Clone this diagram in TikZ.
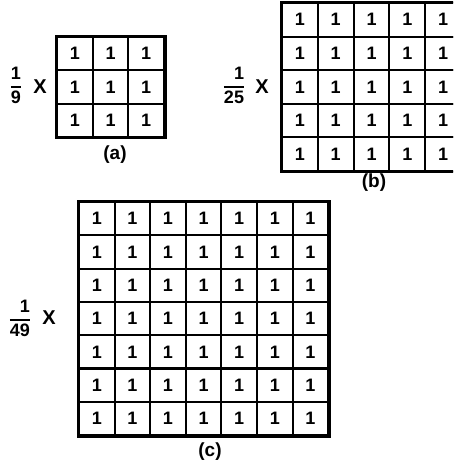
\documentclass[tikz,border=0pt]{standalone}
\usepackage{fontspec}
\setmainfont{Liberation Sans}
\setlength\arrayrulewidth{1.5pt}
\renewcommand\arraystretch{1.15}
\begin{document}
\begin{tikzpicture}[x=1pt,y=-1pt,
  cell/.style={draw, line width=2.1pt, minimum width=35.7pt, minimum height=33.3pt, inner sep=0pt, font=\fontsize{18}{20}\selectfont\bfseries},
  outline/.style={line width=2.8pt},
  lbl/.style={font=\fontsize{19}{21}\selectfont\bfseries, inner sep=0pt},
  fracnode/.style={font=\fontsize{18}{20}\selectfont\bfseries, inner sep=0pt},
  times/.style={font=\fontsize{20}{22}\selectfont\bfseries, inner sep=0pt},
]
\useasboundingbox (0,0) rectangle (453,462);
\fill[white] (0,0) rectangle (453,462);
\begin{scope}
\clip (0,0) rectangle (453,462);
% grid (a)
\foreach \r in {0,1,2} \foreach \c in {0,1,2}
  \node[cell] (a-\r-\c) at ({57+35.7*(\c+0.5)},{37+33.3*(\r+0.5)}) {1};
\draw[outline] (a-0-0.north west) rectangle (a-2-2.south east);
\node[fracnode] (fa) at (16,87) {\begin{tabular}{@{}c@{}}1\\\hline 9\end{tabular}};
\node[times] (xa) at (40,87) {X};
\node[lbl] (la) at (115,155) {(a)};
% grid (b)
\foreach \r in {0,...,4} \foreach \c in {0,...,4}
  \node[cell, minimum width=35.8pt, minimum height=33.6pt] (b-\r-\c) at ({282+35.8*(\c+0.5)},{3+33.6*(\r+0.5)}) {1};
\draw[outline] (b-0-0.north west) rectangle (b-4-4.south east);
\node[fracnode] (fb) at (234,87) {\begin{tabular}{@{}r@{}}1\\\hline 25\end{tabular}};
\node[times] (xb) at (262,87) {X};
\node[lbl] (lb) at (374,183) {(b)};
% grid (c)
\foreach \r in {0,...,6} \foreach \c in {0,...,6}
  \node[cell, minimum width=35.6pt] (c-\r-\c) at ({79+35.6*(\c+0.5)},{202+33.3*(\r+0.5)}) {1};
\draw[outline] (c-0-0.north west) rectangle (c-6-6.south east);
\node[fracnode] (fc) at (20,320) {\begin{tabular}{@{}r@{}}1\\\hline 49\end{tabular}};
\node[times] (xc) at (49,318) {X};
\node[lbl] (lc) at (210,452) {(c)};
\end{scope}
\end{tikzpicture}
\end{document}
